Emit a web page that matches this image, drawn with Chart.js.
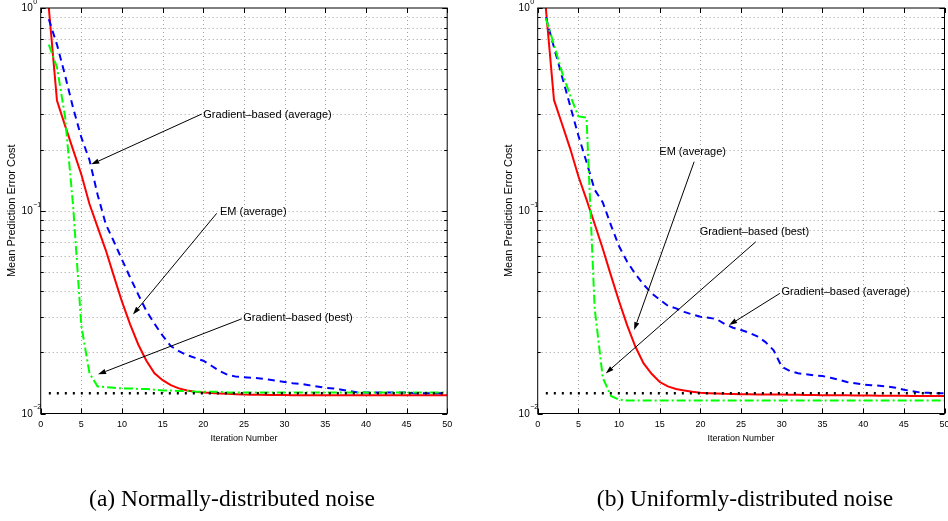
<!DOCTYPE html>
<html>
<head>
<meta charset="utf-8">
<script src="https://cdn.jsdelivr.net/npm/chart.js@4.4.1/dist/chart.umd.min.js"></script>
<style>
  html, body { margin: 0; padding: 0; background: #fff; }
  .wrap { position: relative; width: 948px; height: 521px; overflow: hidden; }
  canvas { position: absolute; top: 0; }
  #panelA { left: 0; }
  #panelB { left: 474px; }
</style>
</head>
<body>
<div class="wrap">
  <canvas id="panelA" width="474" height="521"></canvas>
  <canvas id="panelB" width="474" height="521"></canvas>
</div>
<script>
// iteration numbers on the x axis
const iterations = Array.from({length: 50}, (_, k) => k + 1);
const xTicks = [0, 5, 10, 15, 20, 25, 30, 35, 40, 45, 50];
const yTicks = [0.01, 0.02, 0.03, 0.04, 0.05, 0.06, 0.07, 0.08, 0.09,
                0.1, 0.2, 0.3, 0.4, 0.5, 0.6, 0.7, 0.8, 0.9, 1];
const yDecades = [[0.01, '\u22122'], [0.1, '\u22121'], [1, '0']];
const optimum = 0.0126;

// (a) normally-distributed noise
const emNormal = [1.0, 0.35, 0.263, 0.199, 0.151, 0.108, 0.083, 0.064, 0.0476, 0.0356,
  0.0275, 0.0219, 0.0182, 0.0158, 0.0146, 0.0138, 0.0133, 0.0130, 0.0128, 0.0127,
  0.01262, 0.01255, 0.0125, 0.01245, 0.0124, 0.01238, 0.01236, 0.01235, 0.01234, 0.01233,
  0.0123, 0.0123, 0.0123, 0.0123, 0.0123, 0.0123, 0.0123, 0.0123, 0.0123, 0.0123,
  0.0123, 0.0123, 0.0123, 0.0123, 0.0123, 0.0123, 0.0123, 0.0123, 0.0123, 0.0123];
const gradAvgNormal = [0.88, 0.66, 0.465, 0.32, 0.23, 0.178, 0.12, 0.086, 0.0705, 0.0574,
  0.0469, 0.0386, 0.0321, 0.0277, 0.0242, 0.0215, 0.0203, 0.0194, 0.0188, 0.0182,
  0.0172, 0.0162, 0.0155, 0.0152, 0.0151, 0.0150, 0.0149, 0.0147, 0.0145, 0.0143,
  0.0141, 0.0140, 0.0138, 0.0136, 0.0134, 0.0133, 0.0131, 0.0129, 0.0127, 0.0127,
  0.0127, 0.0127, 0.0127, 0.0127, 0.0127, 0.0126, 0.0126, 0.0126, 0.0126, 0.0126];
const gradBestNormal = [0.66, 0.51, 0.29, 0.104, 0.027, 0.0158, 0.0136, 0.0135, 0.0134, 0.0133,
  0.0133, 0.0132, 0.0132, 0.0131, 0.0130, 0.0130, 0.0129, 0.0129, 0.0128, 0.0128,
  0.0128, 0.0128, 0.0127, 0.0127, 0.0127, 0.0127, 0.0127, 0.0127, 0.0127, 0.0127,
  0.0127, 0.0127, 0.0127, 0.0127, 0.0127, 0.0127, 0.0127, 0.0127, 0.0127, 0.0127,
  0.0127, 0.0127, 0.0127, 0.0127, 0.0127, 0.0127, 0.0127, 0.0127, 0.0127, 0.0127];

// (b) uniformly-distributed noise
const emUniform = [1.0, 0.352, 0.267, 0.202, 0.148, 0.1135, 0.086, 0.065, 0.048, 0.0358,
  0.0272, 0.0214, 0.0177, 0.0157, 0.0143, 0.0136, 0.0132, 0.0130, 0.0128, 0.01265,
  0.0126, 0.01255, 0.0125, 0.01248, 0.01246, 0.01244, 0.01242, 0.0124, 0.0124, 0.0124,
  0.01238, 0.01236, 0.01235, 0.01233, 0.01232, 0.0123, 0.0123, 0.0123, 0.01228, 0.01227,
  0.01226, 0.01225, 0.01224, 0.01223, 0.01222, 0.0122, 0.0122, 0.0122, 0.0122, 0.0122];
const gradAvgUniform = [0.90, 0.64, 0.458, 0.328, 0.235, 0.174, 0.127, 0.11, 0.085, 0.0668,
  0.056, 0.0488, 0.0433, 0.0392, 0.0364, 0.0340, 0.0330, 0.0317, 0.0308, 0.0300,
  0.0297, 0.0292, 0.0276, 0.0265, 0.0258, 0.0250, 0.0240, 0.0225, 0.0205, 0.0170,
  0.0162, 0.0158, 0.0156, 0.0154, 0.0153, 0.0150, 0.0147, 0.0143, 0.0141, 0.0139,
  0.0138, 0.0137, 0.0136, 0.0134, 0.0131, 0.0129, 0.0127, 0.01265, 0.0126, 0.0126];
const gradBestUniform = [0.89, 0.66, 0.48, 0.37, 0.292, 0.288, 0.033, 0.0150, 0.0122, 0.0117,
  0.0116, 0.0116, 0.0116, 0.0116, 0.0116, 0.0116, 0.0116, 0.0116, 0.0116, 0.0116,
  0.0116, 0.0116, 0.0116, 0.0116, 0.0116, 0.0116, 0.0116, 0.0116, 0.0116, 0.0116,
  0.0116, 0.0116, 0.0116, 0.0116, 0.0116, 0.0116, 0.0116, 0.0116, 0.0116, 0.0116,
  0.0116, 0.0116, 0.0116, 0.0116, 0.0116, 0.0116, 0.0116, 0.0116, 0.0116, 0.0116];

// annotations: text anchor (tx, ty), arrow start (sx, sy) and tip (hx, hy), in data units
const notesNormal = [
  {text: 'Gradient\u2013based (average)', align: 'left', tx: 20.0, ty: 0.2966, sx: 19.8, sy: 0.2999, hx: 6.22, hy: 0.1694},
  {text: 'EM (average)', align: 'left', tx: 22.05, ty: 0.0989, sx: 21.65, sy: 0.0971, hx: 11.35, hy: 0.0308},
  {text: 'Gradient\u2013based (best)', align: 'left', tx: 24.92, ty: 0.02946, sx: 24.72, sy: 0.0293, hx: 7.05, hy: 0.0156}
];
const notesUniform = [
  {text: 'EM (average)', align: 'center', tx: 19.04, ty: 0.1954, sx: 19.23, sy: 0.1745, hx: 11.85, hy: 0.02578},
  {text: 'Gradient\u2013based (best)', align: 'center', tx: 26.63, ty: 0.0782, sx: 26.81, sy: 0.0703, hx: 8.36, hy: 0.01577},
  {text: 'Gradient\u2013based (average)', align: 'left', tx: 29.97, ty: 0.03958, sx: 29.77, sy: 0.03914, hx: 23.53, hy: 0.0273}
];

const SANS = '"Liberation Sans", Arial, Helvetica, sans-serif';

function makeFrame(panel) {
  return {
    id: 'frame',
    beforeDatasetsDraw(chart) {
      const {ctx, chartArea: a, scales: {x, y}} = chart;
      ctx.save();
      ctx.strokeStyle = '#a0a0a0';
      ctx.lineWidth = 1;
      ctx.setLineDash([1, 3]);
      xTicks.slice(1, -1).forEach(v => {
        const px = Math.round(x.getPixelForValue(v)) + 0.5;
        ctx.beginPath(); ctx.moveTo(px, a.top); ctx.lineTo(px, a.bottom); ctx.stroke();
      });
      yTicks.slice(1, -1).forEach(v => {
        const py = Math.round(y.getPixelForValue(v)) + 0.5;
        ctx.beginPath(); ctx.moveTo(a.left, py); ctx.lineTo(a.right, py); ctx.stroke();
      });
      ctx.restore();
    },
    afterDatasetsDraw(chart) {
      const {ctx, chartArea: a, scales: {x, y}} = chart;
      ctx.save();
      // box
      ctx.strokeStyle = '#000';
      ctx.lineWidth = 1;
      ctx.strokeRect(a.left, a.top, a.right - a.left, a.bottom - a.top);

      // inward tick marks
      ctx.beginPath();
      xTicks.forEach(v => {
        const px = Math.round(x.getPixelForValue(v)) + 0.5;
        ctx.moveTo(px, a.bottom); ctx.lineTo(px, a.bottom - 5);
        ctx.moveTo(px, a.top); ctx.lineTo(px, a.top + 5);
      });
      yTicks.forEach(v => {
        const py = Math.round(y.getPixelForValue(v)) + 0.5;
        const len = yDecades.some(d => d[0] === v) ? 5 : 3;
        ctx.moveTo(a.left, py); ctx.lineTo(a.left + len, py);
        ctx.moveTo(a.right, py); ctx.lineTo(a.right - len, py);
      });
      ctx.stroke();

      // tick labels
      ctx.fillStyle = '#000';
      ctx.font = '9px ' + SANS;
      ctx.textAlign = 'center';
      ctx.textBaseline = 'middle';
      xTicks.forEach(v => ctx.fillText(String(v), x.getPixelForValue(v), a.bottom + 11));
      yDecades.forEach(([v, exp]) => {
        const py = y.getPixelForValue(v);
        const right = a.left - 8;
        ctx.font = '10px ' + SANS;
        ctx.textAlign = 'right';
        ctx.fillText('10', right, py + 0.5);
        ctx.font = '7px ' + SANS;
        ctx.textAlign = 'left';
        ctx.fillText(exp, right + 0.5, py - 6);
      });

      // axis titles
      ctx.font = '9px ' + SANS;
      ctx.textAlign = 'center';
      ctx.fillText('Iteration Number', (a.left + a.right) / 2, a.bottom + 25);
      ctx.save();
      ctx.translate(a.left - 28.5, (a.top + a.bottom) / 2);
      ctx.rotate(-Math.PI / 2);
      ctx.font = '11px ' + SANS;
      ctx.fillText('Mean Prediction Error Cost', 0, 0);
      ctx.restore();

      // annotations with arrows
      ctx.font = '11px ' + SANS;
      panel.notes.forEach(n => {
        ctx.textAlign = n.align;
        ctx.textBaseline = 'middle';
        ctx.fillText(n.text, x.getPixelForValue(n.tx), y.getPixelForValue(n.ty));
        const sx = x.getPixelForValue(n.sx), sy = y.getPixelForValue(n.sy);
        const hx = x.getPixelForValue(n.hx), hy = y.getPixelForValue(n.hy);
        const ang = Math.atan2(hy - sy, hx - sx);
        const head = 8, half = 2.6;
        const bx = hx - head * Math.cos(ang), by = hy - head * Math.sin(ang);
        ctx.beginPath();
        ctx.moveTo(sx, sy); ctx.lineTo(bx, by);
        ctx.stroke();
        ctx.beginPath();
        ctx.moveTo(hx, hy);
        ctx.lineTo(bx + half * Math.sin(ang), by - half * Math.cos(ang));
        ctx.lineTo(bx - half * Math.sin(ang), by + half * Math.cos(ang));
        ctx.closePath();
        ctx.fill();
      });

      // caption
      ctx.font = '23.5px "Liberation Serif", "Times New Roman", serif';
      ctx.textAlign = 'center';
      ctx.textBaseline = 'alphabetic';
      ctx.fillText(panel.caption, panel.captionX, 506);
      ctx.restore();
    }
  };
}

function buildPanel(canvas, panel) {
  const pts = arr => arr.map((v, k) => ({x: iterations[k], y: v}));
  const first = iterations[0], last = iterations[iterations.length - 1];
  return new Chart(canvas.getContext('2d'), {
    type: 'line',
    data: {
      datasets: [
        {data: [{x: first, y: optimum}, {x: last, y: optimum}], borderColor: '#000000', borderWidth: 2.5, borderDash: [2, 6]},
        {data: pts(panel.best), borderColor: '#00ff00', borderWidth: 2, borderDash: [9, 3, 2, 3]},
        {data: pts(panel.avg), borderColor: '#0000ff', borderWidth: 2, borderDash: [7, 5]},
        {data: pts(panel.em), borderColor: '#ff0000', borderWidth: 2}
      ]
    },
    options: {
      responsive: false,
      animation: false,
      layout: {padding: panel.pad},
      elements: {point: {radius: 0}, line: {tension: 0, fill: false}},
      plugins: {legend: {display: false}, tooltip: {enabled: false}},
      scales: {
        x: {
          type: 'linear', min: 0, max: 50,
          grid: {display: false}, border: {display: false}, ticks: {display: false},
          afterFit: s => { s.height = 0; }
        },
        y: {
          type: 'logarithmic', min: 0.01, max: 1,
          grid: {display: false}, border: {display: false}, ticks: {display: false},
          afterBuildTicks: s => { s.ticks = yTicks.map(v => ({value: v})); },
          afterFit: s => { s.width = 0; }
        }
      }
    },
    plugins: [makeFrame(panel)]
  });
}

buildPanel(document.getElementById('panelA'), {
  em: emNormal, avg: gradAvgNormal, best: gradBestNormal,
  notes: notesNormal,
  caption: '(a) Normally-distributed noise', captionX: 232,
  pad: {left: 40.7, top: 8, right: 26.8, bottom: 107.5}
});

buildPanel(document.getElementById('panelB'), {
  em: emUniform, avg: gradAvgUniform, best: gradBestUniform,
  notes: notesUniform,
  caption: '(b) Uniformly-distributed noise', captionX: 271,
  pad: {left: 63.7, top: 8, right: 3.5, bottom: 107.5}
});
</script>
</body>
</html>
